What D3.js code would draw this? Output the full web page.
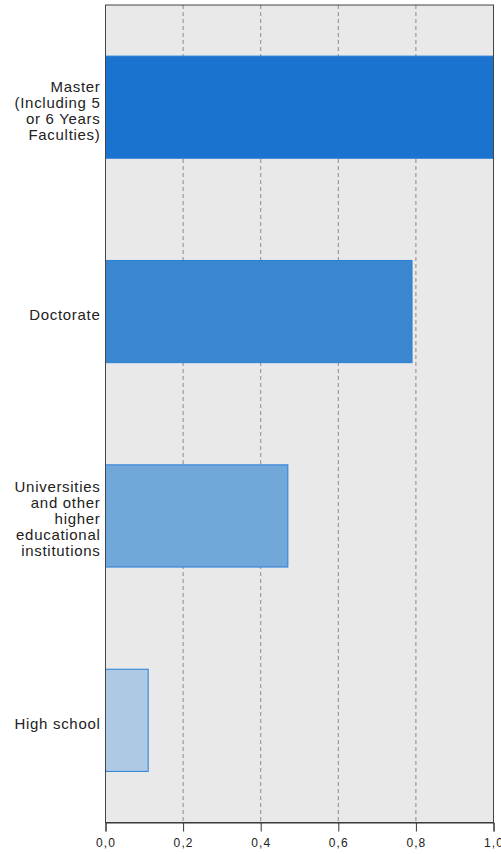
<!DOCTYPE html>
<html>
<head>
<meta charset="utf-8">
<script src="https://cdn.jsdelivr.net/npm/d3@7"></script>
<style>
  body { margin: 0; background: #fff; }
  text { font-family: "Liberation Sans", Arial, sans-serif; fill: #222; }
</style>
</head>
<body>
<svg id="chart"></svg>
<script>
// categories (top to bottom), one label line per entry
let categories = [
  ["Master", "(Including 5", "or 6 Years", "Faculties)"],
  ["Doctorate"],
  ["Universities", "and other", "higher", "educational", "institutions"],
  ["High school"]
];
let values = [1.0, 0.79, 0.47, 0.11];
let barColors = ["#1a73cf", "#3a87d0", "#72a7da", "#adc9e4"];
let tickValues = [0, 0.2, 0.4, 0.6, 0.8, 1.0];

let vWidth = 501;
let vHeight = 854;
let margin = { top: 5, right: 7.5, bottom: 31.5, left: 105.5 };
let innerW = vWidth - margin.left - margin.right;
let innerH = vHeight - margin.top - margin.bottom;

let svg = d3.select('#chart')
  .attr('width', vWidth)
  .attr('height', vHeight);

let g = svg.append('g')
  .attr('transform', `translate(${margin.left}, ${margin.top})`);

let x = d3.scaleLinear().domain([0, 1]).range([0, innerW]);
let y = d3.scaleBand()
  .domain(d3.range(categories.length))
  .range([0, innerH])
  .paddingInner(0.5)
  .paddingOuter(0.25);

// background
g.append('rect')
  .attr('width', innerW)
  .attr('height', innerH)
  .attr('fill', '#e9e9e9');

// dashed grid lines
g.selectAll('.grid')
  .data(tickValues.slice(1, -1))
  .enter()
  .append('line')
  .attr('x1', d => x(d))
  .attr('x2', d => x(d))
  .attr('y1', 0)
  .attr('y2', innerH)
  .attr('stroke', '#8a8a8a')
  .attr('stroke-width', 1)
  .attr('stroke-dasharray', '4,3');

// bars
g.selectAll('.bar')
  .data(values)
  .enter()
  .append('rect')
  .attr('x', 0)
  .attr('y', (d, i) => y(i))
  .attr('width', d => x(d))
  .attr('height', y.bandwidth())
  .attr('fill', (d, i) => barColors[i])
  .attr('stroke', '#2a7fd6')
  .attr('stroke-width', 1);

// frame
g.append('rect')
  .attr('width', innerW)
  .attr('height', innerH)
  .attr('fill', 'none')
  .attr('stroke', '#444')
  .attr('stroke-width', 1);

// x axis
let xAxis = d3.axisBottom(x)
  .tickValues(tickValues)
  .tickSize(9)
  .tickFormat(d => d3.format('.1f')(d).replace('.', ','));

let ax = g.append('g')
  .attr('transform', `translate(0, ${innerH})`)
  .call(xAxis);
ax.select('.domain').attr('stroke', '#333');
ax.selectAll('.tick line').attr('stroke', '#333');
ax.selectAll('.tick text')
  .attr('font-size', 12)
  .attr('letter-spacing', 1.1)
  .attr('font-family', '"Liberation Sans", Arial, sans-serif')
  .attr('fill', '#222')
  .attr('y', 24.5)
  .attr('dy', 0);

// category labels
let lineH = 16;
let labels = g.selectAll('.lab')
  .data(categories)
  .enter()
  .append('text')
  .attr('text-anchor', 'end')
  .attr('font-size', 15)
  .attr('letter-spacing', 0.7)
  .attr('transform', (d, i) => `translate(-5, ${y(i) + y.bandwidth() / 2 + 3})`);

labels.selectAll('tspan')
  .data(d => d.map((t, k) => ({ t, k, n: d.length })))
  .enter()
  .append('tspan')
  .attr('x', 0)
  .attr('y', d => (d.k - (d.n - 1) / 2) * lineH)
  .attr('dy', '0.36em')
  .text(d => d.t);
</script>
</body>
</html>
